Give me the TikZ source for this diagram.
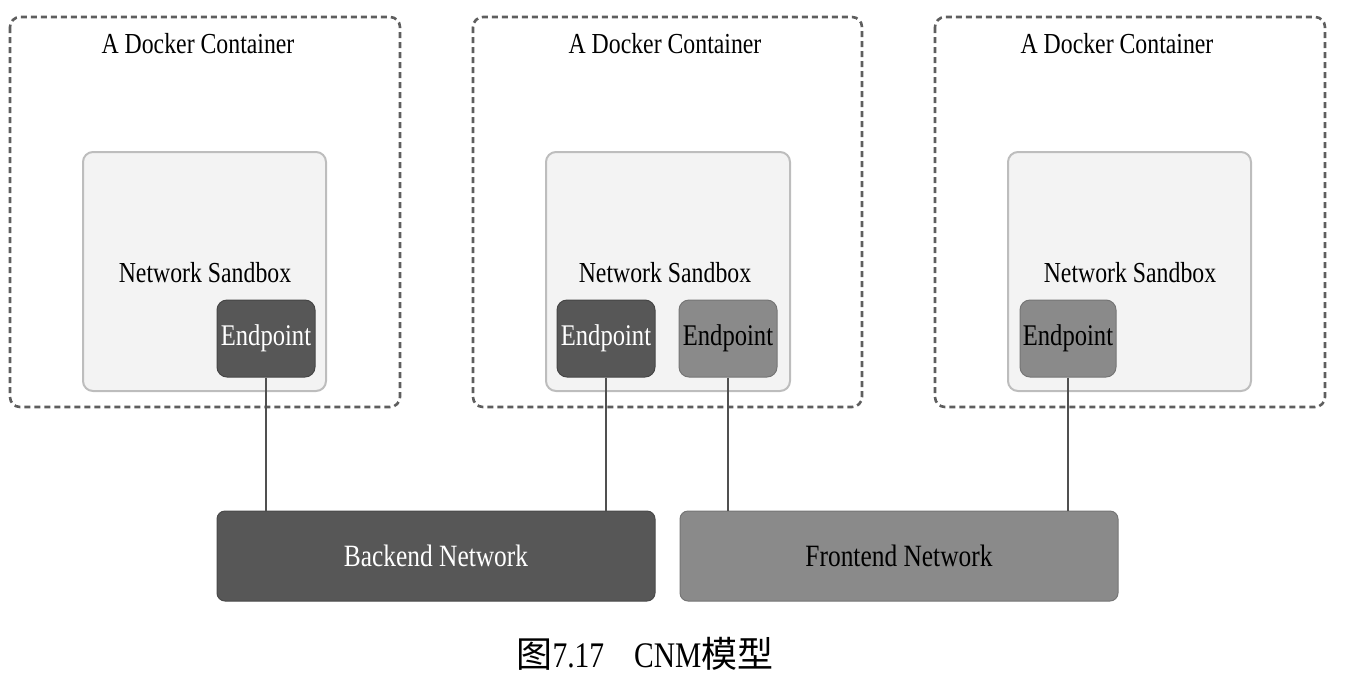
\documentclass[tikz,border=0pt]{standalone}
\usepackage{fontspec}
\setmainfont[FakeStretch=0.82]{Liberation Serif}
\newfontfamily\cjk{Noto Sans CJK SC}
\definecolor{darkbox}{HTML}{575757}
\definecolor{midbox}{HTML}{8A8A8A}
\definecolor{sandfill}{HTML}{F3F3F3}
\definecolor{sandline}{HTML}{BDBDBD}
\definecolor{dashcol}{HTML}{5E5E5E}
\definecolor{linecol}{HTML}{505050}
\begin{document}
\begin{tikzpicture}[x=1pt,y=-1pt,
  container/.style={draw=dashcol,line width=2.6pt,dash pattern=on 6pt off 4pt,rounded corners=10pt},
  sandbox/.style={draw=sandline,fill=sandfill,line width=2pt,rounded corners=10pt},
  epdark/.style={draw=darkbox!80!black,fill=darkbox,line width=1pt,rounded corners=10pt,text=white,font=\fontsize{30}{34}\selectfont},
  epmid/.style={draw=midbox!85!black,fill=midbox,line width=1pt,rounded corners=10pt,text=black,font=\fontsize{30}{34}\selectfont},
  netdark/.style={draw=darkbox!85!black,fill=darkbox,line width=1pt,rounded corners=8pt,text=white,font=\fontsize{31}{34}\selectfont},
  netmid/.style={draw=midbox!85!black,fill=midbox,line width=1pt,rounded corners=8pt,text=black,font=\fontsize{31}{34}\selectfont},
  ttl/.style={font=\fontsize{29}{32}\selectfont},
  conn/.style={draw=linecol,line width=1.5pt}]
\useasboundingbox (0,0) rectangle (1356,689);
% containers
\draw[container] (10,17) rectangle (400,407);
\draw[container] (473,17) rectangle (862,407);
\draw[container] (935,17) rectangle (1325,407);
\node[ttl] (t1) at (198,44) {A Docker Container};
\node[ttl] (t2) at (665,44) {A Docker Container};
\node[ttl] (t3) at (1117,44) {A Docker Container};
% sandboxes
\draw[sandbox] (83,152) rectangle (326,391);
\draw[sandbox] (546,152) rectangle (790,391);
\draw[sandbox] (1008,152) rectangle (1251,391);
\node[ttl] (s1) at (205,273) {Network Sandbox};
\node[ttl] (s2) at (665,273) {Network Sandbox};
\node[ttl] (s3) at (1130,273) {Network Sandbox};
% endpoints
\node[epdark,minimum width=98pt,minimum height=77pt,inner sep=0pt] (e1) at (266,338.5) {Endpoint};
\node[epdark,minimum width=98pt,minimum height=77pt,inner sep=0pt] (e2) at (606,338.5) {Endpoint};
\node[epmid,minimum width=98pt,minimum height=77pt,inner sep=0pt] (e3) at (728,338.5) {Endpoint};
\node[epmid,minimum width=96pt,minimum height=77pt,inner sep=0pt] (e4) at (1068,338.5) {Endpoint};
% networks
\node[netdark,minimum width=438pt,minimum height=90pt,inner sep=0pt] (bn) at (436,556) {Backend Network};
\node[netmid,minimum width=438pt,minimum height=90pt,inner sep=0pt] (fn) at (899,556) {Frontend Network};
% connectors
\draw[conn] (e1.south) -- (e1.south |- bn.north);
\draw[conn] (e2.south) -- (e2.south |- bn.north);
\draw[conn] (e3.south) -- (e3.south |- fn.north);
\draw[conn] (e4.south) -- (e4.south |- fn.north);
% caption
\node[font=\fontsize{36}{40}\selectfont] (cap) at (645,654) {{\cjk 图}7.17\hspace{30pt}CNM{\cjk 模型}};
\end{tikzpicture}
\end{document}
